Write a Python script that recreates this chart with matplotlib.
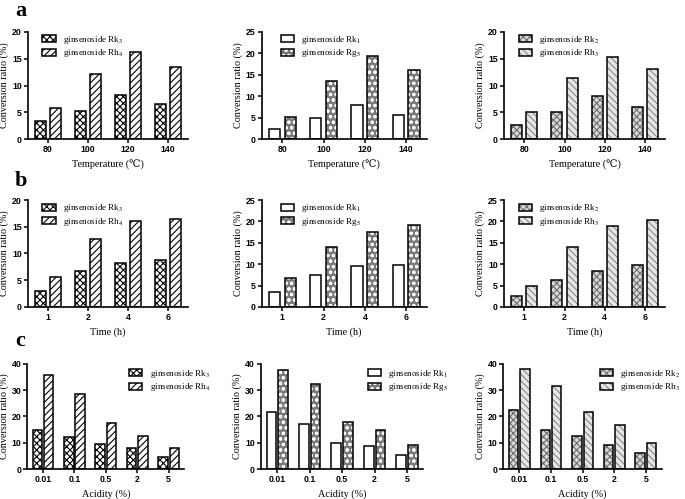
import matplotlib
matplotlib.use("Agg")
import matplotlib.pyplot as plt
from matplotlib.patches import Patch

# ---- data ----
temps = ["80", "100", "120", "140"]
times = ["1", "2", "4", "6"]
acids = ["0.01", "0.1", "0.5", "2", "5"]

rk3_temp = [3.4, 5.2, 8.2, 6.6]
rh4_temp = [5.8, 12.1, 16.3, 13.4]
rk1_temp = [2.4, 4.9, 8.0, 5.6]
rg5_temp = [5.1, 13.6, 19.5, 16.1]
rk2_temp = [2.7, 5.1, 8.0, 6.0]
rh3_temp = [5.0, 11.5, 15.3, 13.1]

rk3_time = [2.9, 6.8, 8.3, 8.7]
rh4_time = [5.6, 12.8, 16.0, 16.4]
rk1_time = [3.6, 7.5, 9.5, 9.9]
rg5_time = [6.8, 14.0, 17.5, 19.2]
rk2_time = [2.6, 6.4, 8.5, 9.8]
rh3_time = [4.8, 14.0, 19.0, 20.4]

rk3_acid = [14.9, 12.3, 9.4, 8.1, 4.7]
rh4_acid = [35.9, 28.7, 17.4, 12.7, 8.1]
rk1_acid = [21.6, 17.3, 10.0, 8.8, 5.3]
rg5_acid = [37.8, 32.5, 18.0, 14.7, 9.0]
rk2_acid = [22.3, 15.0, 12.7, 9.0, 6.2]
rh3_acid = [38.1, 31.7, 21.5, 16.9, 9.9]

# fill, hatch, hatch colour for each compound
STYLE = {
    "Rk$_3$": ("white", "xxxxx", "black"),
    "Rh$_4$": ("white", "/////", "black"),
    "Rk$_1$": ("white", "", "black"),
    "Rg$_5$": ("#7a7a7a", "ooo", "white"),
    "Rk$_2$": ("#d9d9d9", "xxxxx", "#6e6e6e"),
    "Rh$_3$": ("#e6e6e6", "\\\\\\\\\\", "#8a8a8a"),
}

SERIF = ["Liberation Serif", "DejaVu Serif"]
plt.rcParams.update({
    "font.family": "Liberation Sans",
    "mathtext.fontset": "stix",
    "hatch.linewidth": 0.8,
    "axes.linewidth": 1.2,
})


def draw(ax, cats, s1, s2, n1, n2, ylim, yticks, xlabel, width, off, leg_xy):
    xs = range(len(cats))
    handles = []
    for name, vals, d in ((n1, s1, -off), (n2, s2, off)):
        fc, ht, hc = STYLE[name]
        pos = [x + d for x in xs]
        ax.bar(pos, vals, width, color=fc, hatch=ht, edgecolor=hc, lw=0)
        ax.bar(pos, vals, width, fill=False, edgecolor="black", lw=1.1)
        handles.append((Patch(facecolor=fc, hatch=ht, edgecolor=hc, lw=0),
                        Patch(fill=False, edgecolor="black", lw=1.1)))
    ax.set_xlim(-0.5, len(cats) - 0.5)
    ax.set_ylim(*ylim)
    ax.set_yticks(yticks)
    ax.set_xticks(list(xs))
    ax.set_xticklabels(cats)
    for lab in ax.get_xticklabels() + ax.get_yticklabels():
        lab.set_fontweight("bold")
        lab.set_fontsize(6.3)
    ax.spines["top"].set_visible(False)
    ax.spines["right"].set_visible(False)
    ax.tick_params(length=3, width=1.1, pad=1.5)
    ax.set_xlabel(xlabel, family=SERIF, fontsize=7.3, labelpad=4)
    ax.set_ylabel("Conversion ratio (%)", family=SERIF, fontsize=7.3,
                  labelpad=2)
    ax.legend(handles, ["ginsenoside " + n1, "ginsenoside " + n2],
              loc="upper left", bbox_to_anchor=leg_xy, frameon=False,
              prop={"family": SERIF, "size": 6.5},
              handlelength=1.45, handleheight=0.8, handletextpad=0.8,
              labelspacing=0.15, borderaxespad=0, borderpad=0)


fig = plt.figure(figsize=(6.85, 4.99), dpi=100)

cols = [(0.041, 0.233), (0.382, 0.241), (0.736, 0.235)]
rows = [(0.721, 0.215), (0.385, 0.214), (0.060, 0.211)]

pairs = [("Rk$_3$", "Rh$_4$"), ("Rk$_1$", "Rg$_5$"), ("Rk$_2$", "Rh$_3$")]
temp_data = [(rk3_temp, rh4_temp), (rk1_temp, rg5_temp), (rk2_temp, rh3_temp)]
time_data = [(rk3_time, rh4_time), (rk1_time, rg5_time), (rk2_time, rh3_time)]
acid_data = [(rk3_acid, rh4_acid), (rk1_acid, rg5_acid), (rk2_acid, rh3_acid)]
temp_ylim = [(0, 20), (0, 25), (0, 20)]
time_ylim = [(0, 20), (0, 25), (0, 25)]
leg_top = [(0.09, 0.98), (0.115, 0.98), (0.09, 0.98)]
leg_acid = [(0.65, 0.96), (0.66, 0.96), (0.61, 0.96)]

for i in range(3):
    l, w = cols[i]
    ax = fig.add_axes([l, rows[0][0], w, rows[0][1]])
    top = temp_ylim[i][1]
    draw(ax, temps, *temp_data[i], *pairs[i], temp_ylim[i],
         range(0, top + 1, 5), "Temperature (\u2103)", 0.27, 0.19,
         leg_top[i])

    ax = fig.add_axes([l, rows[1][0], w, rows[1][1]])
    top = time_ylim[i][1]
    draw(ax, times, *time_data[i], *pairs[i], time_ylim[i],
         range(0, top + 1, 5), "Time (h)", 0.27, 0.19, leg_top[i])

    ax = fig.add_axes([l - 0.001, rows[2][0], w - 0.004, rows[2][1]])
    draw(ax, acids, *acid_data[i], *pairs[i], (0, 40),
         range(0, 41, 10), "Acidity (%)", 0.3, 0.18, leg_acid[i])

for txt, y in (("a", 0.978), ("b", 0.637), ("c", 0.317)):
    fig.text(0.022, y, txt, family=SERIF, fontsize=16, fontweight="bold",
             va="center")

fig.savefig("out.png", dpi=100)
